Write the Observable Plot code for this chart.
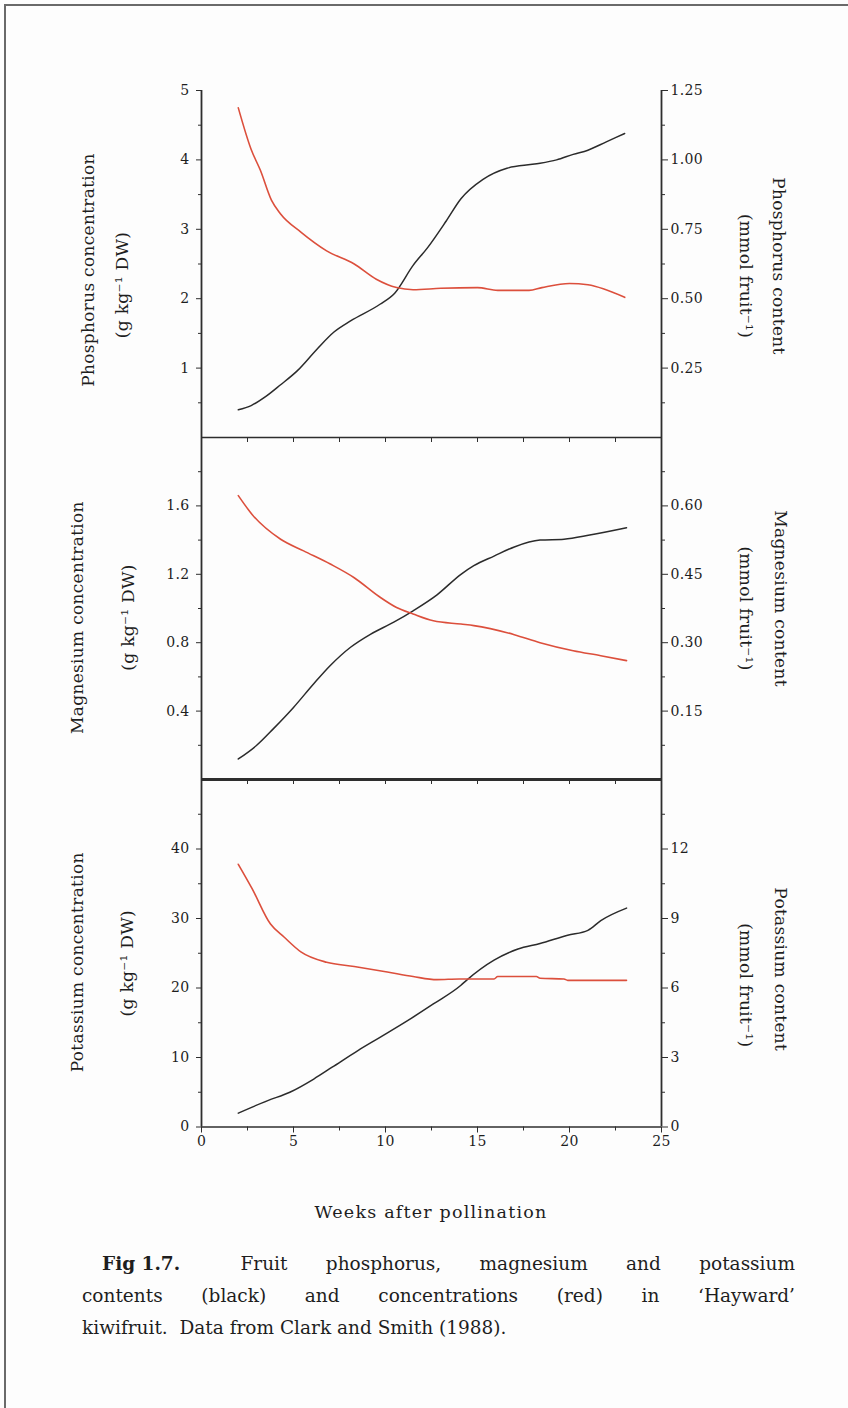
<!DOCTYPE html>
<html><head><meta charset="utf-8">
<script src="https://cdn.jsdelivr.net/npm/d3@7"></script>
<script src="https://cdn.jsdelivr.net/npm/@observablehq/plot@0.6"></script>
<style>
html,body{margin:0;padding:0;background:#fff;}
#page{position:relative;width:848px;height:1408px;overflow:hidden;background:#fdfdfd;font-family:"DejaVu Serif",serif;color:#1e1e1e;}
.panel{position:absolute;left:0;width:848px;}
#frameTop{position:absolute;left:4px;top:4px;width:844px;height:2px;background:#6a6a6a;}
#frameLeft{position:absolute;left:4px;top:4px;width:2px;height:1404px;background:#6a6a6a;}
#xtitle{position:absolute;left:216px;width:430px;text-align:center;font-size:17.5px;letter-spacing:1.2px;}
#caption{position:absolute;left:82px;width:713px;font-size:18.5px;line-height:32px;}
.jl{text-align:justify;text-align-last:justify;}
.ind{padding-left:20px;}
.fig{display:inline-block;font-weight:bold;margin-right:22px;}
</style>
</head><body>
<div id="page">
  <div id="frameTop"></div><div id="frameLeft"></div>
  <div id="p3" class="panel"></div>
  <div id="p2" class="panel"></div>
  <div id="p1" class="panel"></div>
  <div id="xtitle"></div>
  <div id="caption"></div>
</div>
<script>
// ---- shared x axis ----
const xLabels = [0, 5, 10, 15, 20, 25];
const xMinor = [2.5, 7.5, 12.5, 17.5, 22.5];
const xAll = [2.5, 5, 7.5, 10, 12.5, 15, 17.5, 20, 22.5];
const xTitle = "Weeks after pollination";

// ---- Phosphorus ----
const pConcWeeks = [2, 2.7, 3.2, 3.8, 4.3, 5.4, 6.8, 8.3, 9.5, 10.6, 11.5, 13, 15, 16.1, 17.8, 18.5, 20, 21, 23];
const pConc = [4.75, 4.15, 3.85, 3.42, 3.22, 2.96, 2.69, 2.50, 2.28, 2.16, 2.13, 2.15, 2.16, 2.12, 2.12, 2.16, 2.22, 2.20, 2.02];
const pContWeeks = [2, 2.7, 3.5, 4.3, 5.2, 6.3, 7.2, 8.1, 9.7, 10.5, 11.5, 12.3, 13.3, 14.1, 15.3, 16.6, 18.1, 19.3, 20.2, 21, 22, 23];
const pCont = [0.10, 0.115, 0.148, 0.19, 0.24, 0.32, 0.38, 0.42, 0.48, 0.52, 0.62, 0.685, 0.78, 0.86, 0.93, 0.97, 0.985, 1.00, 1.02, 1.035, 1.065, 1.095];
const pConcTicks = [1, 2, 3, 4, 5];
const pConcMinor = [0.5, 1.5, 2.5, 3.5, 4.5];
const pContTicks = [0.25, 0.50, 0.75, 1.00, 1.25];

// ---- Magnesium ----
const mgConcWeeks = [2, 2.75, 4.3, 5.55, 7, 8.3, 9.65, 10.6, 11.5, 12.6, 14.1, 14.8, 17, 18.4, 20.2, 21.7, 23.1];
const mgConc = [1.66, 1.55, 1.405, 1.337, 1.26, 1.18, 1.07, 1.006, 0.968, 0.928, 0.909, 0.90, 0.847, 0.80, 0.753, 0.724, 0.695];
const mgContWeeks = [2, 3, 3.9, 5, 6.1, 7, 8.1, 9.2, 10.45, 11.5, 12.8, 14.1, 14.8, 15.9, 17, 18.4, 19.7, 21.1, 23.1];
const mgCont = [0.045, 0.075, 0.111, 0.158, 0.21, 0.25, 0.29, 0.319, 0.345, 0.37, 0.405, 0.45, 0.469, 0.49, 0.51, 0.525, 0.527, 0.536, 0.552];
const mgConcTicks = [0.4, 0.8, 1.2, 1.6];
const mgConcMinor = [0.2, 0.6, 1.0, 1.4, 1.8];
const mgContTicks = [0.15, 0.30, 0.45, 0.60];

// ---- Potassium ----
const kConcWeeks = [2, 2.75, 3.75, 4.5, 5.4, 6.8, 8.3, 10.1, 11.5, 12.8, 14, 15.9, 16.1, 18.2, 18.4, 19.7, 19.9, 23.1];
const kConc = [37.8, 34.3, 29.2, 27.3, 25.2, 23.7, 23.1, 22.3, 21.65, 21.2, 21.3, 21.3, 21.65, 21.65, 21.4, 21.3, 21.1, 21.1];
const kContWeeks = [2, 3.6, 4.8, 6.1, 7.1, 8.5, 9.7, 11.2, 12.6, 14.1, 14.4, 15.9, 17.2, 18.4, 19.9, 21, 21.7, 23.1];
const kCont = [0.6, 1.14, 1.5, 2.07, 2.58, 3.3, 3.87, 4.59, 5.31, 6.12, 6.33, 7.2, 7.68, 7.92, 8.28, 8.49, 8.91, 9.45];
const kConcTicks = [0, 10, 20, 30, 40];
const kConcMinor = [5, 15, 25, 35, 45];
const kContTicks = [0, 3, 6, 9, 12];

const RED = "#dc4f3c", BLACK = "#2b2b2b", AXIS = "#2e2e2e";
const FONT = "DejaVu Serif";

function makePanel(o) {
  const conc = o.concWeeks.map((w, i) => ({w, v: o.conc[i]}));
  const cont = o.contWeeks.map((w, i) => ({w, v: o.cont[i] / o.factor}));
  const blank = () => "";
  const title = (t, anchor, rot, x, dy) => Plot.text([t], {
    text: d => d, frameAnchor: anchor, rotate: rot, textAnchor: "middle", lineAnchor: "middle",
    dx: x - (anchor === "left" ? 201 : 661), dy, fontSize: 17
  });
  const marks = [
    Plot.line(cont, {x: "w", y: "v", stroke: BLACK, strokeWidth: 1.5, curve: "monotone-x"}),
    Plot.line(conc, {x: "w", y: "v", stroke: RED, strokeWidth: 1.6, curve: "monotone-x"}),
    Plot.ruleY([0], {stroke: AXIS, strokeWidth: o.sepWidth}),
    Plot.ruleX([0, 25], {stroke: AXIS, strokeWidth: 1.8}),
    Plot.axisY(o.leftTicks, {anchor: "left", tickSize: 5, tickPadding: 7, fontSize: 14, label: null, stroke: AXIS, tickFormat: o.leftFmt}),
    Plot.axisY(o.leftMinor, {anchor: "left", tickSize: 3, tickFormat: blank, label: null, stroke: AXIS}),
    Plot.axisY(o.rightTicks.map(v => v / o.factor), {anchor: "right", tickSize: 6, tickPadding: 3, fontSize: 14, label: null, stroke: AXIS, tickFormat: o.rightFmt}),
    Plot.axisY(o.leftMinor, {anchor: "right", tickSize: 3, tickFormat: blank, label: null, stroke: AXIS}),
    title(o.titleL, "left", -90, o.xL, o.dyL),
    title(o.titleL2, "left", -90, o.xL2, o.dyL2),
    title(o.titleR, "right", 90, o.xR, o.dyR),
    title(o.titleR2, "right", 90, o.xR2, o.dyR2)
  ];
  if (o.xAxis) {
    marks.push(Plot.axisX(xLabels, {anchor: "bottom", tickSize: 6, tickPadding: 3, fontSize: 14, label: null, stroke: AXIS}));
    marks.push(Plot.axisX(xMinor, {anchor: "bottom", tickSize: 4, tickFormat: blank, label: null, stroke: AXIS}));
  } else {
    marks.push(Plot.axisX(xAll, {anchor: "bottom", tickSize: 5, tickFormat: blank, label: null, stroke: AXIS}));
  }
  return Plot.plot({
    width: 848,
    height: o.mt + o.plotH + o.mb,
    marginLeft: 201, marginRight: 187, marginTop: o.mt, marginBottom: o.mb,
    x: {domain: [0, 25], label: null},
    y: {domain: [0, o.yMax], label: null},
    style: {background: "transparent", overflow: "visible", fontFamily: FONT, fontSize: "14px", color: "#1e1e1e", letterSpacing: "0.3px"},
    marks
  });
}

const p1 = makePanel({
  concWeeks: pConcWeeks, conc: pConc, contWeeks: pContWeeks, cont: pCont, factor: 0.25, yMax: 5,
  leftTicks: pConcTicks, leftMinor: pConcMinor, leftFmt: d => String(d),
  rightTicks: pContTicks, rightFmt: d => (d * 0.25).toFixed(2),
  titleL: "Phosphorus concentration", titleL2: "(g kg\u207B\u00B9 DW)", titleR: "Phosphorus content", titleR2: "(mmol fruit\u207B\u00B9)",
  xL: 88, xL2: 122, dyL: 6, dyL2: 21, xR: 778, xR2: 745, dyR: 2, dyR2: 12,
  mt: 10, plotH: 347, mb: 10, sepWidth: 1.6, xAxis: false
});
const p2 = makePanel({
  concWeeks: mgConcWeeks, conc: mgConc, contWeeks: mgContWeeks, cont: mgCont, factor: 0.375, yMax: 2.0,
  leftTicks: mgConcTicks, leftMinor: mgConcMinor, leftFmt: d => d.toFixed(1),
  rightTicks: mgContTicks, rightFmt: d => (d * 0.375).toFixed(2),
  titleL: "Magnesium concentration", titleL2: "(g kg\u207B\u00B9 DW)", titleR: "Magnesium content", titleR2: "(mmol fruit\u207B\u00B9)",
  xL: 77, xL2: 128, dyL: 9, dyL2: 9, xR: 780, xR2: 745, dyR: -10, dyR2: 0,
  mt: 0, plotH: 342, mb: 10, sepWidth: 3, xAxis: false
});
const p3 = makePanel({
  concWeeks: kConcWeeks, conc: kConc, contWeeks: kContWeeks, cont: kCont, factor: 0.3, yMax: 50,
  leftTicks: kConcTicks, leftMinor: kConcMinor, leftFmt: d => String(d),
  rightTicks: kContTicks, rightFmt: d => String(Math.round(d * 0.3)),
  titleL: "Potassium concentration", titleL2: "(g kg\u207B\u00B9 DW)", titleR: "Potassium content", titleR2: "(mmol fruit\u207B\u00B9)",
  xL: 77, xL2: 127, dyL: 9, dyL2: 10, xR: 780, xR2: 745, dyR: 16, dyR2: 32,
  mt: 0, plotH: 347.5, mb: 30, sepWidth: 1.6, xAxis: true
});

function place(id, svg, top) {
  const el = document.getElementById(id);
  el.style.top = top + "px";
  el.appendChild(svg);
}
place("p1", p1, 80);
place("p2", p2, 437);
place("p3", p3, 779);

const xt = document.getElementById("xtitle");
xt.textContent = xTitle;
xt.style.top = "1202px";

const captionLines = [
  {html: "<span class=\"fig\">Fig 1.7.</span> Fruit phosphorus, magnesium and potassium", cls: "jl ind"},
  {html: "contents (black) and concentrations (red) in \u2018Hayward\u2019", cls: "jl"},
  {html: "kiwifruit.&nbsp; Data from Clark and Smith (1988).", cls: ""}
];
const cap = document.getElementById("caption");
cap.style.top = "1248px";
cap.innerHTML = captionLines.map(l => `<div class="${l.cls}">${l.html}</div>`).join("");
</script>
</body></html>
